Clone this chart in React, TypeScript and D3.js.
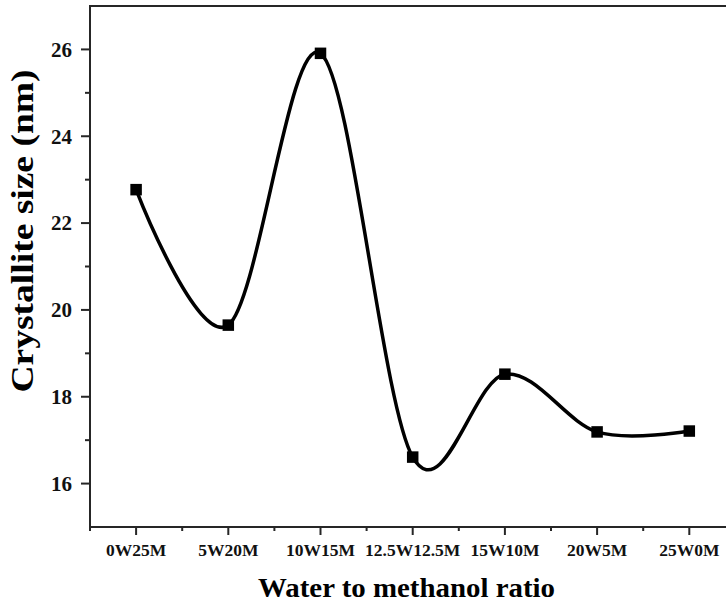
import React from "react";
import * as d3 from "d3";

const categories: string[] = ["0W25M", "5W20M", "10W15M", "12.5W12.5M", "15W10M", "20W5M", "25W0M"];
const crystalliteSize: number[] = [22.77, 19.65, 25.91, 16.61, 18.52, 17.19, 17.21];
const yMajorTicks: number[] = [16, 18, 20, 22, 24, 26];
const yMinorTicks: number[] = [17, 19, 21, 23, 25];
const xTitle = "Water to methanol ratio";
const yTitle = "Crystallite size (nm)";

export default function App() {
  const W = 726, H = 607;
  const left = 90, right = 735.4, top = 6, bottom = 527;
  const x = d3.scaleLinear().domain([-0.5, categories.length - 0.5]).range([left, right]);
  const y = d3.scaleLinear().domain([15, 27]).range([bottom, top]);
  const pts: [number, number][] = crystalliteSize.map((v, i) => [x(i), y(v)]);
  const line = d3.line().curve(d3.curveCardinal.tension(0))(pts) || "";
  const xMinor = d3.range(0, categories.length - 1).map((i) => i + 0.5);
  const axisColor = "#262626";
  const font = "'Liberation Serif', 'Times New Roman', serif";
  const ms = 11.5;

  return (
    <svg width={W} height={H} style={{ position: "absolute", left: 0, top: 0, background: "#fff" }}>
      <rect x={0} y={0} width={W} height={H} fill="#fff" />
      <line x1={left} y1={top} x2={W} y2={top} stroke={axisColor} strokeWidth={2} />
      <line x1={left} y1={top - 1} x2={left} y2={bottom + 4} stroke={axisColor} strokeWidth={2} />
      <line x1={left - 1} y1={bottom} x2={W} y2={bottom} stroke={axisColor} strokeWidth={2} />
      {yMajorTicks.map((t) => (
        <g key={"ym" + t}>
          <line x1={left - 9} x2={left} y1={y(t)} y2={y(t)} stroke={axisColor} strokeWidth={2} />
          <text x={72} y={y(t)} dy="0.35em" textAnchor="end" fontFamily={font} fontWeight="bold" fontSize={21} fill="#111">
            {t}
          </text>
        </g>
      ))}
      {yMinorTicks.map((t) => (
        <line key={"yn" + t} x1={left - 5} x2={left} y1={y(t)} y2={y(t)} stroke={axisColor} strokeWidth={2} />
      ))}
      {categories.map((c, i) => (
        <g key={"xm" + c}>
          <line x1={x(i)} x2={x(i)} y1={bottom} y2={bottom + 8} stroke={axisColor} strokeWidth={2} />
          <text x={x(i)} y={556} textAnchor="middle" fontFamily={font} fontWeight="bold" fontSize={17.5} fill="#111">
            {c}
          </text>
        </g>
      ))}
      {xMinor.map((t) => (
        <line key={"xn" + t} x1={x(t)} x2={x(t)} y1={bottom} y2={bottom + 4} stroke={axisColor} strokeWidth={2} />
      ))}
      <path d={line} fill="none" stroke="#000" strokeWidth={3.5} strokeLinejoin="round" />
      {pts.map(([px, py], i) => (
        <rect key={"p" + i} x={px - ms / 2} y={py - ms / 2} width={ms} height={ms} fill="#000" />
      ))}
      <text x={406.5} y={597} textAnchor="middle" fontFamily={font} fontWeight="bold" fontSize={28} fill="#000" textLength={297} lengthAdjust="spacingAndGlyphs">
        {xTitle}
      </text>
      <text transform={`translate(33, 231) rotate(-90)`} textAnchor="middle" fontFamily={font} fontWeight="bold" fontSize={32} fill="#000" textLength={323} lengthAdjust="spacingAndGlyphs">
        {yTitle}
      </text>
    </svg>
  );
}
